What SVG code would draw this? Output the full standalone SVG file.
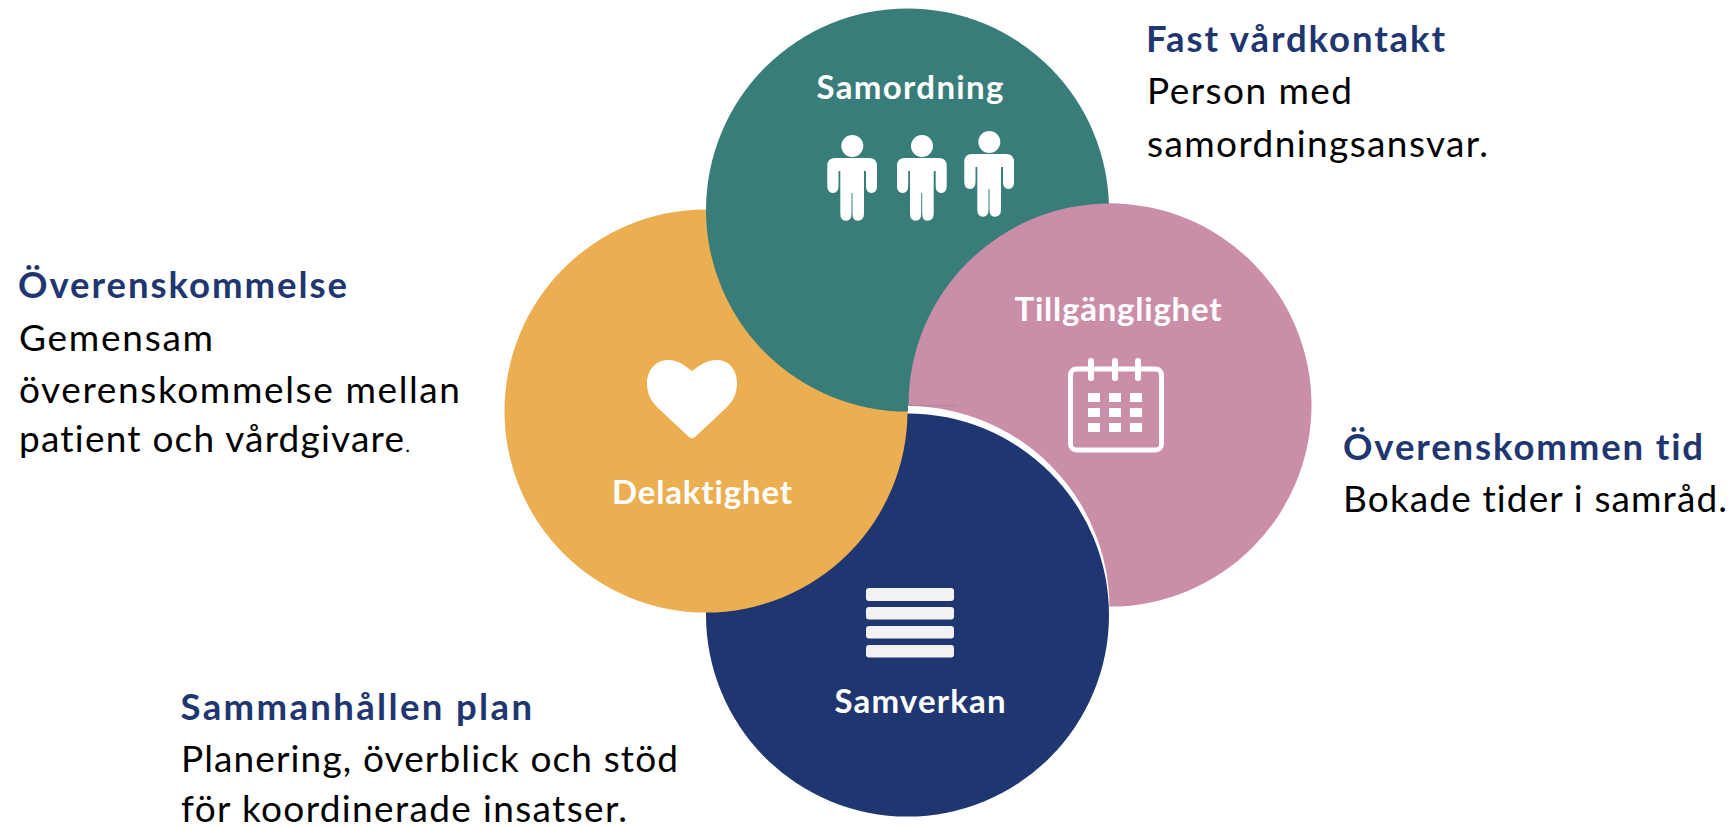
<svg xmlns="http://www.w3.org/2000/svg" xmlns:xlink="http://www.w3.org/1999/xlink" width="1734" height="828" viewBox="0 0 1734 828">
<style>
text{font-family:"Lato","Open Sans","Liberation Sans",sans-serif;font-variant-ligatures:none}
.l{font-size:33px;font-weight:700;fill:#fff}
.h{font-size:36.500px;font-weight:700;fill:#1f3670}
.b{font-size:37px;fill:#000}
.w{fill:#fff}
</style>
<defs>
<clipPath id="topRight"><rect x="908" y="190" width="220" height="215.500"/></clipPath>
<clipPath id="notCorner"><path d="M690 0H1120V405.500H908V420H690Z"/></clipPath>
<g id="person"><circle cx="852.3" cy="146" r="11"/><path d="M835 158H869Q877 158 877 166V186Q877 193 871.500 193Q866 193 866 186V171H864V213.500Q864 220.700 857.500 220.700Q852.500 220.700 852.500 213.500V193H851.500V213.500Q851.500 220.700 846 220.700Q840.300 220.700 840.300 213.500V171H838.500V186Q838.500 193 833 193Q827.300 193 827.300 186V166Q827.300 158 835 158Z"/></g>
</defs>
<g id="node-tillganglighet-base"><circle cx="1110" cy="405" r="201.500" fill="#cb8ea8"/></g>
<g id="node-samverkan"><circle cx="907.500" cy="608" r="202" fill="#fff"/><circle cx="907.500" cy="615" r="201.500" fill="#1f3670"/>
<g fill="#f2f2f2"><rect x="866" y="588" width="88" height="13" rx="3"/><rect x="866" y="607" width="88" height="12.500" rx="3"/><rect x="866" y="626" width="88" height="12.500" rx="3"/><rect x="866" y="645" width="88" height="12.500" rx="3"/></g>
<text class="l" x="834.500" y="712.500" textLength="171" lengthAdjust="spacing">Samverkan</text></g>
<g id="node-delaktighet"><circle cx="706" cy="411" r="201.500" fill="#ebae50"/>
<path class="w" d="M668 360C680 360 686 367 692 371C698 367 705 360 717 360C729 360 737 370 737 383C737 394 733 401 726 408L695 437Q692 439.500 689 437L658 408C651 401 647 394 647 383C647 370 656 360 668 360Z"/>
<text class="l" x="612" y="504" textLength="180" lengthAdjust="spacing">Delaktighet</text></g>
<g id="node-samordning"><circle cx="907.500" cy="210" r="201.500" fill="#387d7a" clip-path="url(#notCorner)"/>
<g class="w"><use xlink:href="#person" href="#person"/><use xlink:href="#person" href="#person" x="69.700"/><use xlink:href="#person" href="#person" x="137" y="-4"/></g>
<text class="l" x="816.500" y="99" textLength="187" lengthAdjust="spacing">Samordning</text></g>
<g id="node-tillganglighet"><circle cx="1110" cy="405" r="201.500" fill="#cb8ea8" clip-path="url(#topRight)"/>
<rect x="1070.500" y="369" width="91" height="81" rx="6" fill="none" stroke="#fff" stroke-width="5"/>
<g class="w"><rect x="1088" y="358" width="6" height="23" rx="3"/><rect x="1112" y="358" width="6" height="23" rx="3"/><rect x="1135" y="358" width="6" height="23" rx="3"/>
<rect x="1088" y="393" width="12" height="9"/><rect x="1109" y="393" width="12" height="9"/><rect x="1130" y="393" width="12" height="9"/>
<rect x="1088" y="408" width="12" height="9"/><rect x="1109" y="408" width="12" height="9"/><rect x="1130" y="408" width="12" height="9"/>
<rect x="1088" y="423" width="12" height="9"/><rect x="1109" y="423" width="12" height="9"/><rect x="1130" y="423" width="12" height="9"/></g>
<text class="l" x="1014.500" y="321" textLength="207" lengthAdjust="spacing">Tillgänglighet</text></g>
<g id="connectors"></g>
<g id="note-fast"><text class="h" x="1146" y="52" textLength="299" lengthAdjust="spacing">Fast vårdkontakt</text>
<text class="b" x="1147" y="104" textLength="205" lengthAdjust="spacing">Person med</text>
<text class="b" x="1147" y="157" textLength="341" lengthAdjust="spacing">samordningsansvar.</text></g>
<g id="note-overens"><text class="h" x="18" y="298" textLength="329" lengthAdjust="spacing">Överenskommelse</text>
<text class="b" x="19" y="351" textLength="194" lengthAdjust="spacing">Gemensam</text>
<text class="b" x="19" y="403" textLength="441" lengthAdjust="spacing">överenskommelse mellan</text>
<text class="b" x="19" y="452" textLength="391" lengthAdjust="spacing">patient och vårdgivare<tspan font-size="20">.</tspan></text></g>
<g id="note-tid"><text class="h" x="1343" y="460" textLength="360" lengthAdjust="spacing">Överenskommen tid</text>
<text class="b" x="1343" y="512" textLength="384" lengthAdjust="spacing">Bokade tider i samråd.</text></g>
<g id="note-plan"><text class="h" x="180.500" y="720" textLength="351.500" lengthAdjust="spacing">Sammanhållen plan</text>
<text class="b" x="181" y="772" textLength="497" lengthAdjust="spacing">Planering, överblick och stöd</text>
<text class="b" x="181" y="822" textLength="446" lengthAdjust="spacing">för koordinerade insatser.</text></g>
</svg>
